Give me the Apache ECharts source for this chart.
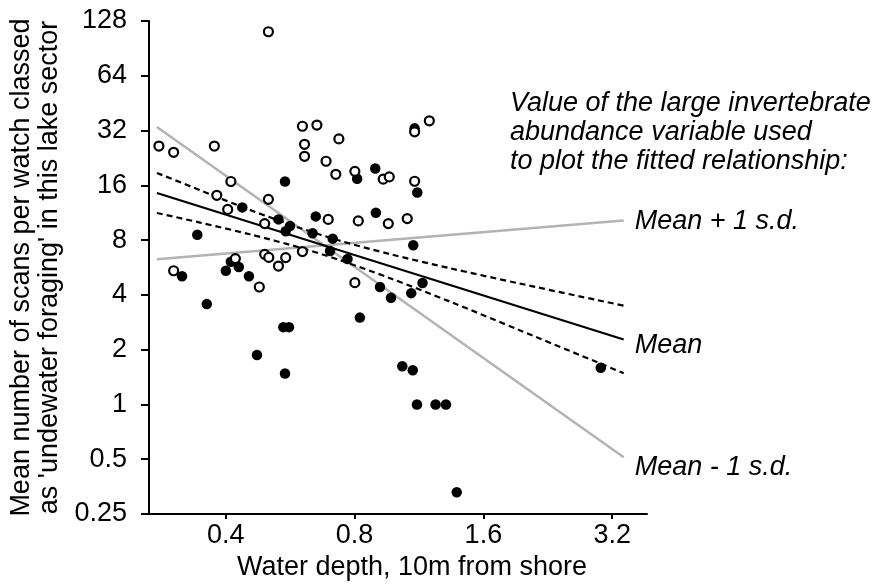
<!DOCTYPE html>
<html>
<head>
<meta charset="utf-8">
<script src="https://cdn.jsdelivr.net/npm/echarts@6/dist/echarts.min.js"></script>
<style>
html,body{margin:0;padding:0;background:#fff;}
#c{width:874px;height:586px;}
</style>
</head>
<body>
<div id="c"></div>
<script>
// ---- data ----
const xTicks = [0.4, 0.8, 1.6, 3.2];
const yTicks = [0.25, 0.5, 1, 2, 4, 8, 16, 32, 64, 128];

const openX = [0.279,0.302,0.376,0.411,0.381,0.503,0.604,0.653,0.611,0.611,0.735,0.686,0.723,0.801,0.503,0.933,0.964,1.105,1.105,1.196,0.404,0.493,0.694,0.816,0.493,0.504,0.421,0.552,0.604,0.531,0.302,0.479,0.801,0.959,1.062];
const openY = [26.3,24.3,26.3,16.8,14.1,111.7,33.8,34.3,26.9,23.1,28.8,21.7,18.4,19.1,13.4,17.3,17.8,16.85,31.5,36.2,11.8,9.86,10.4,10.2,6.68,6.43,6.33,6.41,6.92,5.76,5.43,4.42,4.67,9.86,10.5];

const filledX = [0.550,0.811,0.894,1.105,1.121,0.437,0.531,0.565,0.552,0.649,0.638,0.711,0.701,0.770,0.343,0.411,0.429,0.400,0.316,0.453,0.361,0.545,0.562,0.473,0.550,0.823,0.897,1.097,0.917,0.973,1.153,1.085,1.034,1.094,1.119,1.237,1.308,1.386,3.01];
const filledY = [16.8,17.4,19.8,32.9,14.6,12.1,10.4,9.57,8.94,10.8,8.72,8.15,6.97,6.30,8.57,6.09,5.69,5.43,5.06,5.06,3.56,2.66,2.66,1.87,1.48,3.00,11.3,7.49,4.42,3.86,4.65,4.09,1.62,1.54,1.00,1.00,1.00,0.329,1.59];

const fitX = [0.276, 3.405];
const meanY = [14.53, 2.276];
const meanPlusY = [6.27, 10.24];
const meanMinusY = [33.5, 0.512];

const ciX = [0.276,0.348,0.455,0.596,0.739,0.968,1.338,1.951,3.405];
const ciUpperY = [18.72,15.05,11.73,9.33,7.94,6.70,5.60,4.61,3.49];
const ciLowerY = [11.28,9.99,8.61,7.28,6.21,4.94,3.67,2.55,1.485];

const lineLabels = ['Mean + 1 s.d.', 'Mean', 'Mean - 1 s.d.'];
const headerText = ['Value of the large invertebrate', 'abundance variable used', 'to plot the fitted relationship:'];
const xTitle = 'Water depth, 10m from shore';
const yTitle = ["Mean number of scans per watch classed", "as 'undewater foraging' in this lake sector"];

// ---- build ----
const zip = (a, b) => a.map((v, i) => [v, b[i]]);
const FONT = '"Liberation Sans", Arial, sans-serif';
const FS = 27;
const fmt = v => String(+(+v).toPrecision(6));

const chart = echarts.init(document.getElementById('c'), null, {renderer: 'canvas'});
const endLbl = (text, dy) => ({
  show: true, formatter: text, distance: 11, offset: [0, dy],
  fontFamily: FONT, fontSize: FS, fontStyle: 'italic', color: '#000'
});

chart.setOption({
  animation: false,
  backgroundColor: '#fff',
  grid: {left: 149, right: 227, top: 21, bottom: 72, containLabel: false, outerBoundsMode: 'none'},
  xAxis: {
    type: 'log', logBase: 2, min: 0.2645, max: 3.86,
    name: xTitle, nameLocation: 'middle', nameGap: 35,
    nameTextStyle: {fontFamily: FONT, fontSize: FS, color: '#000', padding: [0, 0, 0, 28]},
    axisLine: {show: true, lineStyle: {color: '#000', width: 2}},
    axisTick: {show: true, length: 5, customValues: xTicks, lineStyle: {color: '#000', width: 2}},
    axisLabel: {customValues: xTicks, formatter: fmt, margin: 8, fontFamily: FONT, fontSize: FS, color: '#000'},
    splitLine: {show: false}, minorTick: {show: false}
  },
  yAxis: {
    type: 'log', logBase: 2, min: 0.25, max: 128,
    name: yTitle.join('\n'), nameLocation: 'middle', nameGap: 76, nameRotate: 90,
    nameTextStyle: {fontFamily: FONT, fontSize: FS, color: '#000', lineHeight: 28},
    axisLine: {show: true, lineStyle: {color: '#000', width: 2}},
    axisTick: {show: true, length: 8, customValues: yTicks, lineStyle: {color: '#000', width: 2}},
    axisLabel: {customValues: yTicks, formatter: fmt, margin: 22, fontFamily: FONT, fontSize: FS, color: '#000'},
    splitLine: {show: false}, minorTick: {show: false}
  },
  graphic: [{
    type: 'text', left: 510, top: 89,
    style: {text: headerText.join('\n'), font: 'italic ' + FS + 'px ' + FONT, lineHeight: 29, fill: '#000'}
  }],
  series: [
    {type: 'line', data: zip(fitX, meanPlusY), symbol: 'none', z: 2,
     lineStyle: {color: '#b3b3b3', width: 2.5}, endLabel: endLbl(lineLabels[0], 1)},
    {type: 'line', data: zip(fitX, meanMinusY), symbol: 'none', z: 2,
     lineStyle: {color: '#b3b3b3', width: 2.5}, endLabel: endLbl(lineLabels[2], 10)},
    {type: 'line', data: zip(ciX, ciUpperY), symbol: 'none', smooth: 0.3, z: 3,
     lineStyle: {color: '#000', width: 2.2, type: [6, 4]}},
    {type: 'line', data: zip(ciX, ciLowerY), symbol: 'none', smooth: 0.3, z: 3,
     lineStyle: {color: '#000', width: 2.2, type: [6, 4]}},
    {type: 'line', data: zip(fitX, meanY), symbol: 'none', z: 3,
     lineStyle: {color: '#000', width: 2.2}, endLabel: endLbl(lineLabels[1], 6)},
    {type: 'scatter', data: zip(filledX, filledY), symbol: 'circle', symbolSize: 10.5, z: 5,
     itemStyle: {color: '#000', opacity: 1}},
    {type: 'scatter', data: zip(openX, openY), symbol: 'circle', symbolSize: 9, z: 6,
     itemStyle: {color: '#fff', borderColor: '#000', borderWidth: 2.2, opacity: 1}}
  ]
});
</script>
</body>
</html>
